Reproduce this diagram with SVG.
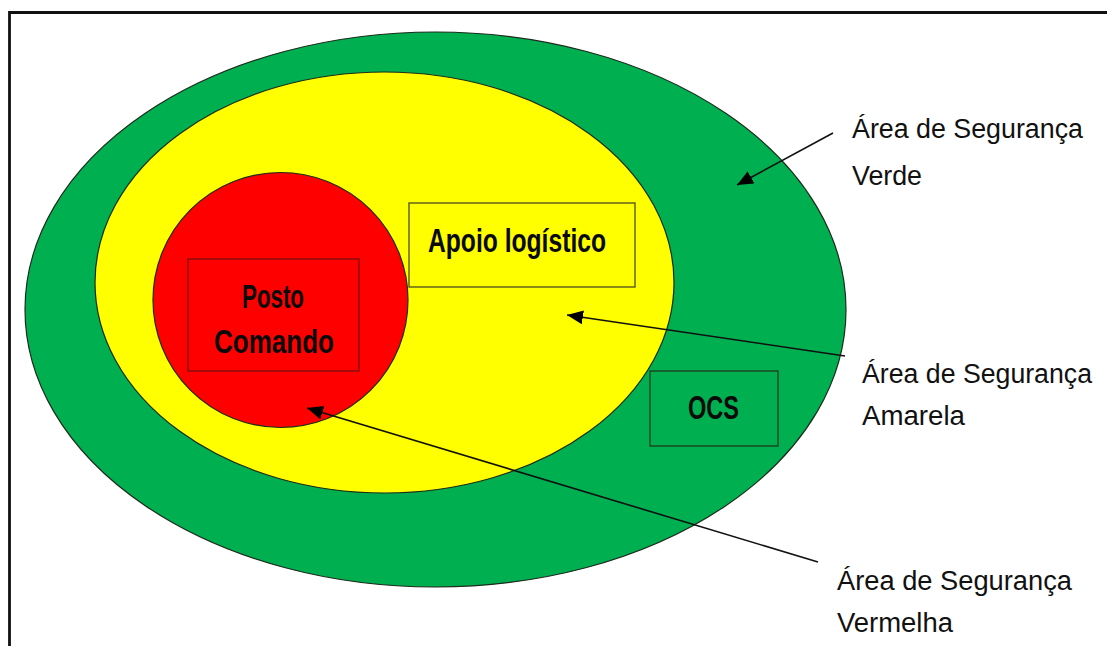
<svg xmlns="http://www.w3.org/2000/svg" width="1107" height="646" viewBox="0 0 1107 646">
<defs>
<style>
.zone{stroke:#1c2b1c;stroke-width:1.2}
.box{stroke-width:1.3}
.lbl{font-family:"Liberation Sans",Arial,sans-serif;font-size:27px;fill:#111}
.btxt{font-family:"Liberation Sans",Arial,sans-serif;font-weight:bold;font-size:34px;fill:#0a0a0a}
.conn{stroke:#111;stroke-width:1.6;fill:none}
</style>
<marker id="ahb" viewBox="0 0 16 14" refX="16" refY="7" markerWidth="16" markerHeight="14" markerUnits="userSpaceOnUse" orient="auto">
<path d="M0,0 L16,7 L0,14 z" fill="#000"/>
</marker>
</defs>
<rect x="0" y="0" width="1107" height="646" fill="#fff"/>
<path d="M9.5,646 L9.5,12.5 L1107,12.5" fill="none" stroke="#111" stroke-width="2.8"/>

<g id="zona-verde">
<ellipse class="zone" cx="435.5" cy="309.5" rx="410.5" ry="277.5" fill="#00B050"/>
</g>
<g id="zona-amarela">
<ellipse class="zone" cx="384.5" cy="282.5" rx="289.5" ry="210.5" fill="#FFFF00"/>
</g>
<g id="zona-vermelha">
<circle class="zone" cx="280.5" cy="300" r="127.5" fill="#FF0000"/>
</g>

<g id="posto-comando">
<rect class="box" x="188" y="259" width="171" height="112" fill="#FF0000" stroke="#7a1010"/>
<text class="btxt" x="273" y="308" text-anchor="middle" textLength="62" lengthAdjust="spacingAndGlyphs">Posto</text>
<text class="btxt" x="274" y="353" text-anchor="middle" textLength="120" lengthAdjust="spacingAndGlyphs">Comando</text>
</g>

<g id="apoio-logistico">
<rect class="box" x="409" y="203" width="226" height="84" fill="#FFFF00" stroke="#4a4a20"/>
<text class="btxt" x="428" y="252" textLength="178" lengthAdjust="spacingAndGlyphs">Apoio logístico</text>
</g>

<g id="ocs">
<rect class="box" x="650" y="371" width="128" height="75" fill="#00B050" stroke="#1c3a1c"/>
<text class="btxt" x="713.5" y="419" text-anchor="middle" textLength="51" lengthAdjust="spacingAndGlyphs">OCS</text>
</g>

<g id="connectors">
<line class="conn" x1="833" y1="133" x2="737" y2="185" marker-end="url(#ahb)"/>
<line class="conn" x1="845" y1="356" x2="567" y2="315" marker-end="url(#ahb)"/>
<line class="conn" x1="818" y1="562" x2="307" y2="408" marker-end="url(#ahb)"/>
</g>

<g id="label-verde">
<text class="lbl" x="852" y="138" textLength="231" lengthAdjust="spacingAndGlyphs">Área de Segurança</text>
<text class="lbl" x="852" y="185" textLength="70" lengthAdjust="spacingAndGlyphs">Verde</text>
</g>
<g id="label-amarela">
<text class="lbl" x="862" y="383" textLength="230" lengthAdjust="spacingAndGlyphs">Área de Segurança</text>
<text class="lbl" x="862" y="425" textLength="103" lengthAdjust="spacingAndGlyphs">Amarela</text>
</g>
<g id="label-vermelha">
<text class="lbl" x="837" y="590" textLength="235" lengthAdjust="spacingAndGlyphs">Área de Segurança</text>
<text class="lbl" x="837" y="632" textLength="116" lengthAdjust="spacingAndGlyphs">Vermelha</text>
</g>
</svg>
